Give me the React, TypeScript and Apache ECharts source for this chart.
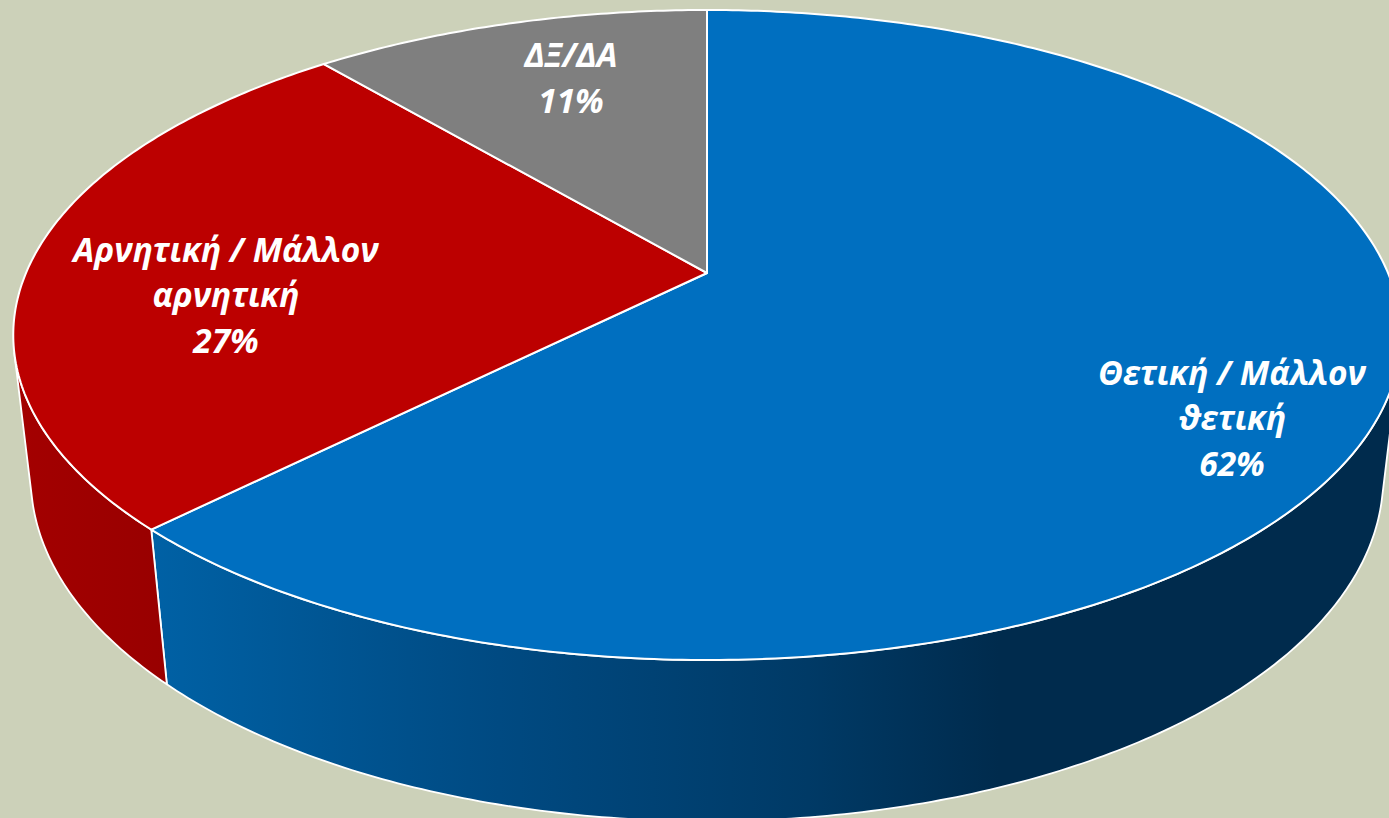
import React, { useEffect, useRef } from "react";
import * as echarts from "echarts";

const categories = ["Θετική / Μάλλον\nϑετική", "Αρνητική / Μάλλον\nαρνητική", "ΔΞ/ΔΑ"];
const percentLabels = ["62%", "27%", "11%"];
const values = [62.47, 26.38, 11.15];
const topColors = ["#006fc0", "#bc0000", "#7f7f7f"];

// Label anchors (x, y of the text block's centre)
const labelAnchors = [
  [1232, 417],
  [226, 294],
  [571, 77],
];

const WIDTH = 1389;
const HEIGHT = 818;

// Perspective projection of the pie's unit disc on to the page
const CX = 707;
const D = 681;
const A = 261.09;
const C = -0.1908;
const topB = 273;
const topW = 1;
const baseB = 424;
const baseW = 1.025;

const project = (theta: number, b: number, w: number): number[] => {
  const u = Math.sin(theta);
  const v = -Math.cos(theta);
  const d = w + C * v;
  return [CX + (D * u) / d, (A * v + b) / d];
};
const onTop = (t: number) => project(t, topB, topW);
const onBase = (t: number) => project(t, baseB, baseW);

const total = values.reduce((a, b) => a + b, 0);
const sliceRange = (i: number): number[] => {
  const before = values.slice(0, i).reduce((a, b) => a + b, 0);
  return [(before / total) * 2 * Math.PI, ((before + values[i]) / total) * 2 * Math.PI];
};
const arcAngles = (a0: number, a1: number): number[] => {
  const n = Math.max(4, Math.ceil((a1 - a0) * 90));
  const out: number[] = [];
  for (let k = 0; k <= n; k++) out.push(a0 + ((a1 - a0) * k) / n);
  return out;
};

const quadArea = (t0: number, t1: number): number => {
  const q = [onTop(t0), onTop(t1), onBase(t1), onBase(t0)];
  let s = 0;
  for (let k = 0; k < 4; k++) {
    const p = q[k];
    const r = q[(k + 1) % 4];
    s += p[0] * r[1] - r[0] * p[1];
  }
  return s;
};

const wallFills = (): any[] => [
  new echarts.graphic.LinearGradient(
    152, 0, WIDTH, 0,
    [
      { offset: 0, color: "#0061a5" },
      { offset: 0.28, color: "#004a82" },
      { offset: 0.53, color: "#003a66" },
      { offset: 0.685, color: "#002b4d" },
      { offset: 1, color: "#002b4d" },
    ],
    true
  ),
  new echarts.graphic.LinearGradient(
    10, 0, 168, 0,
    [
      { offset: 0, color: "#a40000" },
      { offset: 1, color: "#980000" },
    ],
    true
  ),
  "#666666",
];

export default function App() {
  const ref = useRef<HTMLDivElement>(null);

  useEffect(() => {
    document.body.style.margin = "0";
    const chart = echarts.init(ref.current!, null, { renderer: "svg" });
    const fills = wallFills();

    const renderWall = (params: any) => {
      const i = params.dataIndex;
      const [a0, a1] = sliceRange(i);
      const angles = arcAngles(a0, a1);
      const visible: number[] = [];
      for (let k = 0; k < angles.length - 1; k++) {
        if (quadArea(angles[k], angles[k + 1]) < 0) {
          if (!visible.length) visible.push(angles[k]);
          visible.push(angles[k + 1]);
        }
      }
      if (visible.length < 2) return { type: "group", children: [] };
      const points = [...visible.map(onTop), ...visible.slice().reverse().map(onBase)];
      return {
        type: "polygon",
        shape: { points },
        style: { fill: fills[i], stroke: "#ffffff", lineWidth: 1.8, lineJoin: "round" },
        silent: true,
      };
    };

    const renderTop = (params: any) => {
      const i = params.dataIndex;
      const [a0, a1] = sliceRange(i);
      const points = [[CX, topB], ...arcAngles(a0, a1).map(onTop)];
      return {
        type: "polygon",
        shape: { points },
        style: { fill: topColors[i], stroke: "#ffffff", lineWidth: 2, lineJoin: "round" },
        silent: true,
      };
    };

    const renderLabel = (params: any) => {
      const i = params.dataIndex;
      const [x, y] = labelAnchors[i];
      return {
        type: "text",
        silent: true,
        style: {
          x,
          y,
          text: `${categories[i]}\n${percentLabels[i]}`,
          fill: "#ffffff",
          font: "italic bold 33.5px 'Open Sans', sans-serif",
          lineHeight: 45.5,
          align: "center",
          verticalAlign: "middle",
        },
      };
    };

    const data = values.map((v, i) => [i, v]);

    chart.setOption({
      animation: false,
      backgroundColor: "#ccd1b9",
      tooltip: { show: false },
      series: [
        { type: "custom", coordinateSystem: "none", renderItem: renderWall, data, z: 1, clip: false },
        { type: "custom", coordinateSystem: "none", renderItem: renderTop, data, z: 2, clip: false },
        { type: "custom", coordinateSystem: "none", renderItem: renderLabel, data, z: 3, clip: false },
      ],
    });
    return () => chart.dispose();
  }, []);

  return (
    <div style={{ position: "absolute", left: 0, top: 0, width: WIDTH, height: HEIGHT, overflow: "hidden" }}>
      <div ref={ref} style={{ width: WIDTH, height: HEIGHT }} />
    </div>
  );
}
